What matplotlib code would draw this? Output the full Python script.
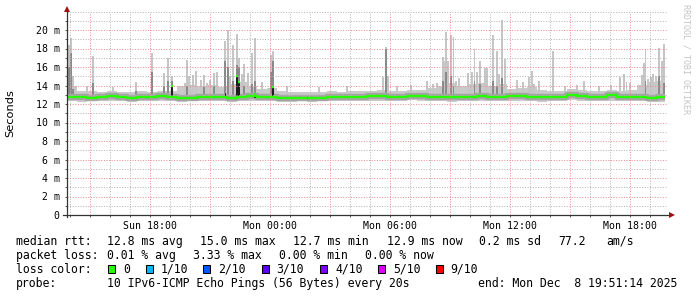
import numpy as np
import matplotlib
matplotlib.use("Agg")
import matplotlib.pyplot as plt
from matplotlib.patches import Rectangle
from datetime import datetime, timedelta

# ---------------- data (hours since graph start, values in ms) ----------------
start = datetime(2025, 12, 7, 13, 51, 14)
span_hours = 30.0
data_end = 29.9

# 30-minute bins
median = [12.78, 12.75, 12.70, 12.80, 12.82, 12.80, 12.70, 12.72, 12.80, 12.82,
          12.80, 12.68, 12.70, 12.78, 12.80, 12.75, 12.70, 12.80, 12.82, 12.78,
          12.80, 12.70, 12.68, 12.70, 12.65, 12.68, 12.78, 12.80, 12.75, 12.80,
          12.85, 12.82, 12.75, 12.80, 12.90, 12.88, 12.80, 12.78, 12.75, 12.72,
          12.78, 12.82, 12.80, 12.80, 12.85, 12.82, 12.78, 12.75, 12.80, 12.75,
          13.00, 12.90, 12.78, 12.80, 12.92, 12.80, 12.78, 12.80, 12.70, 12.72]
smoke_hi = [14.0, 13.4, 13.4, 13.35, 13.4, 13.35, 13.3, 13.4, 13.35, 13.4,
            13.45, 13.9, 14.1, 14.0, 14.1, 13.8, 14.2, 14.4, 13.9, 13.6,
            13.7, 13.4, 13.35, 13.3, 13.3, 13.35, 13.4, 13.35, 13.4, 13.45,
            13.4, 13.5, 13.4, 13.45, 13.5, 13.5, 13.7, 14.0, 14.3, 13.9,
            14.2, 14.3, 14.0, 14.2, 13.6, 13.7, 13.8, 13.5, 13.45, 13.4,
            13.6, 13.5, 13.4, 13.4, 13.5, 13.45, 13.5, 14.1, 14.4, 14.5]
smoke_lo = [12.30, 12.25, 12.30, 12.35, 12.30, 12.30, 12.25, 12.30, 12.35, 12.30,
            12.30, 12.25, 12.30, 12.30, 12.35, 12.30, 12.25, 12.30, 12.30, 12.35,
            12.30, 12.25, 12.25, 12.30, 12.25, 12.30, 12.30, 12.35, 12.30, 12.30,
            12.35, 12.30, 12.30, 12.35, 12.40, 12.35, 12.30, 12.30, 12.25, 12.30,
            12.30, 12.35, 12.30, 12.30, 12.35, 12.30, 12.30, 12.25, 12.30, 12.30,
            12.40, 12.35, 12.30, 12.30, 12.35, 12.30, 12.30, 12.30, 12.25, 12.25]

nan = float("nan")
spike_t = [0.05, 0.1, 0.2, 0.3, 0.4, 1.0, 1.28, 2.3, 3.45, 4.25, 4.83, 5.05, 5.25,
           5.9, 6.0, 6.1, 6.3, 6.45, 6.7, 6.85, 7.0, 7.15, 7.35, 7.5,
           7.9, 8.03, 8.15, 8.3, 8.5, 8.6, 8.75, 8.85, 9.05, 9.25, 9.4, 9.73,
           10.2, 10.3, 11.0, 12.6, 14.0, 15.8, 15.93, 16.05, 16.5, 17.2,
           18.0, 18.3, 18.5, 18.65, 18.8, 18.9, 18.97, 19.05, 19.2, 19.33,
           19.45, 19.6, 20.05, 20.25, 20.38, 20.5, 20.65, 20.9, 21.0, 21.3,
           21.5, 21.6, 21.75, 21.9, 22.5, 22.8, 23.1, 23.25, 23.35, 23.6,
           24.3, 24.9, 25.5, 25.85, 26.6, 27.2, 27.65, 27.85, 27.98, 28.15,
           28.75, 28.85, 28.92, 29.05, 29.2, 29.3, 29.45, 29.6, 29.75, 29.85]
spike_top = [14.6, 18.4, 19.1, 15.0, 13.9, 13.9, 17.2, 13.8, 14.4, 17.5, 15.4, 17.0, 15.0,
             14.3, 16.8, 15.0, 15.1, 15.6, 14.6, 15.1, 14.3, 14.6, 15.4, 15.5,
             18.8, 20.0, 15.0, 18.4, 19.6, 17.0, 15.2, 16.3, 15.3, 17.5, 19.1, 14.4,
             17.3, 17.7, 13.9, 13.8, 13.9, 14.9, 18.2, 15.0, 14.0, 14.1,
             14.5, 14.2, 14.3, 14.0, 17.1, 16.6, 19.8, 16.6, 19.5, 19.2,
             14.5, 14.8, 15.4, 15.5, 18.0, 15.5, 16.6, 15.9, 15.9, 19.5,
             17.7, 15.2, 21.1, 16.9, 14.6, 14.4, 14.9, 15.6, 14.2, 14.5,
             17.7, 14.0, 14.1, 14.5, 13.9, 14.1, 14.9, 15.2, 14.4, 14.3,
             15.1, 16.4, 18.0, 14.7, 14.9, 15.2, 15.0, 18.1, 16.6, 18.5]
spike_mid = [nan, 16.0, 17.5, 13.6, nan, nan, 14.3, nan, 13.4, 15.5, 14.0, 14.5, 14.5,
             nan, 14.0, nan, nan, nan, nan, 13.8, nan, nan, 13.9, nan,
             16.6, 16.0, nan, 14.5, 16.2, 16.0, nan, 14.0, nan, 14.2, 14.5, nan,
             15.5, 16.6, nan, nan, nan, nan, 18.0, nan, nan, nan,
             nan, nan, nan, nan, 14.5, nan, 15.5, nan, 15.0, 14.0,
             nan, nan, nan, nan, 14.5, nan, 14.2, nan, nan, 14.5,
             14.0, nan, 14.8, nan, nan, nan, nan, nan, nan, nan,
             nan, nan, nan, nan, nan, nan, nan, nan, nan, nan,
             nan, nan, 14.5, nan, nan, nan, nan, 15.0, nan, 14.3]

# samples whose median itself was high
high_med_t = [5.25, 7.92, 8.5, 8.6, 9.4, 10.28]
high_med_v = [13.95, 13.35, 15.0, 14.4, 13.1, 13.8]

# sample with 1/10 loss
loss_t = [12.02]
loss_v = [12.65]

# legend / summary text
loss_labels = ["0", "1/10", "2/10", "3/10", "4/10", "5/10", "9/10"]
loss_colors = ["#26ff00", "#00b8ff", "#0059ff", "#5e00ff", "#7e00ff", "#dd00ff", "#ff0000"]

# ---------------- figure ----------------
W, H = 697, 297
fig = plt.figure(figsize=(W / 100, H / 100), dpi=100)
fig.patch.set_facecolor("white")
ax = fig.add_axes([67 / W, (H - 215) / H, 600 / W, 203.5 / H])
ax.set_xlim(0, span_hours)
ax.set_ylim(0, 22)
ax.set_facecolor("white")
for s in ax.spines.values():
    s.set_visible(False)

n = len(median)
edges = np.append(np.arange(n) * 0.5, data_end)
med_ext = np.append(median, median[-1])
hi_ext = np.append(smoke_hi, smoke_hi[-1])
lo_ext = np.append(smoke_lo, smoke_lo[-1])

ax.fill_between(edges, lo_ext, hi_ext, step="post", color="#cacaca", lw=0, zorder=1)

w = 0.09
st = np.array(spike_t)
ax.bar(st, np.array(spike_top) - 12.5, bottom=12.5, width=w, color="#c6c6c6",
       lw=0, zorder=1.1)
sm = np.array(spike_mid)
ok = ~np.isnan(sm)
ax.bar(st[ok], sm[ok] - 12.5, bottom=12.5, width=w, color="#8a8a8a", lw=0, zorder=1.2)

# inner darker smoke around median
ax.step(edges, med_ext, where="post", color="#a4a4a4", lw=4.6, zorder=1.3,
        solid_capstyle="butt")
ax.bar(high_med_t, np.array(high_med_v) - 12.6, bottom=12.6, width=w,
       color="#1e1e1e", lw=0, zorder=1.4)

# grid (dotted)
sx = (datetime(2025, 12, 7, 14, 0, 0) - start).total_seconds() / 3600.0
gkw = dict(lw=0.72, ls=(0, (1, 1.6)), zorder=1.5)
for k in range(30):
    xv = sx + k
    if xv > span_hours:
        break
    hour = (14 + k) % 24
    major = hour % 3 == 0
    ax.axvline(xv, color="#ee8c8c" if major else "#b4b4b4", **gkw)
for yv in range(1, 23):
    major = yv % 2 == 0 and yv <= 20
    ax.axhline(yv, color="#ee8c8c" if major else "#b4b4b4", **gkw)

# median line
ax.step(edges, med_ext, where="post", color="#26ff00", lw=1.7, zorder=2,
        solid_capstyle="butt")
for t, v in zip(high_med_t, high_med_v):
    ax.plot([t - w / 2, t + w / 2], [v, v], color="#26ff00", lw=1.7, zorder=2.1,
            solid_capstyle="butt")
for t, v in zip(loss_t, loss_v):
    ax.plot([t - 0.04, t + 0.04], [v, v], color=loss_colors[1], lw=1.7, zorder=2.2,
            solid_capstyle="butt")

# axes lines and arrows
ax.plot([0, 0], [-0.012, 1.0], transform=ax.transAxes, color="#333333", lw=0.9,
        clip_on=False, zorder=3)
ax.plot([-0.006, 1.004], [0, 0], transform=ax.transAxes, color="#333333", lw=0.9,
        clip_on=False, zorder=3)
ax.plot([0], [1.0 + 0.012], marker="^", ms=4.2, color="#a01010", mew=0,
        transform=ax.transAxes, clip_on=False, zorder=3)
ax.plot([1.0075], [0], marker=">", ms=4.2, color="#a01010", mew=0,
        transform=ax.transAxes, clip_on=False, zorder=3)

# ticks
mono = "DejaVu Sans Mono"
lab_pos, lab_txt = [], []
for k in range(30):
    xv = sx + k
    tt = start + timedelta(hours=xv)
    if tt.hour % 6 == 0 and xv < span_hours:
        lab_pos.append(xv)
        lab_txt.append(tt.strftime("%a %H:%M"))
ax.set_xticks(lab_pos)
ax.set_xticklabels(lab_txt, fontfamily=mono, fontsize=7.1)
ax.set_xticks([sx + k for k in range(30) if sx + k < span_hours], minor=True)
yt = list(range(0, 21, 2))
ax.set_yticks(yt)
ax.set_yticklabels(["0" if v == 0 else f"{v} m" for v in yt], fontfamily=mono,
                   fontsize=7.1)
ax.set_yticks(list(range(1, 22)), minor=True)
ax.tick_params(axis="both", which="both", direction="out", length=1.6, width=0.7,
               color="#555555")
ax.tick_params(axis="x", which="major", pad=2.4)
ax.tick_params(axis="y", which="major", pad=3.6)

fig.text(10 / W, 1 - 113 / H, "Seconds", rotation=90, ha="center", va="center",
         fontsize=8.2, fontfamily="DejaVu Sans")
fig.text(686 / W, 1 - 4 / H, "RRDTOOL / TOBI OETIKER", rotation=270, ha="center",
         va="top", fontsize=6.0, fontfamily=mono, color="#c4c4c4")

# summary text
fs = 8.3
def put(x, y, s):
    fig.text(x / W, 1 - y / H, s, ha="left", va="baseline", fontsize=fs,
             fontfamily=mono, color="black")

b1, b2, b3, b4 = 244.7, 258.7, 272.7, 286.8
put(16, b1, "median rtt:")
for x, s in [(107.3, "12.8 ms avg"), (200, "15.0 ms max"), (293.3, "12.7 ms min"),
             (386.7, "12.9 ms now"), (479.3, "0.2 ms sd"), (558, "77.2"),
             (606.7, "am/s")]:
    put(x, b1, s)
put(16, b2, "packet loss:")
for x, s in [(107.3, "0.01 % avg"), (193.3, "3.33 % max"), (279.3, "0.00 % min"),
             (365, "0.00 % now")]:
    put(x, b2, s)
put(16, b3, "loss color:")
box_x = [108.3, 146, 203.3, 261.7, 320, 378.3, 435.7]
for bx, lab, col in zip(box_x, loss_labels, loss_colors):
    fig.patches.append(Rectangle((bx / W, 1 - b3 / H), 7 / W, 7.6 / H,
                                 transform=fig.transFigure, facecolor=col,
                                 edgecolor="black", lw=0.75))
    put(bx + 15, b3, lab)
put(16, b4, "probe:")
put(107.3, b4, "10 IPv6-ICMP Echo Pings (56 Bytes) every 20s")
put(477.7, b4, "end: Mon Dec  8 19:51:14 2025")

fig.savefig("out.png", dpi=100, facecolor="white")
